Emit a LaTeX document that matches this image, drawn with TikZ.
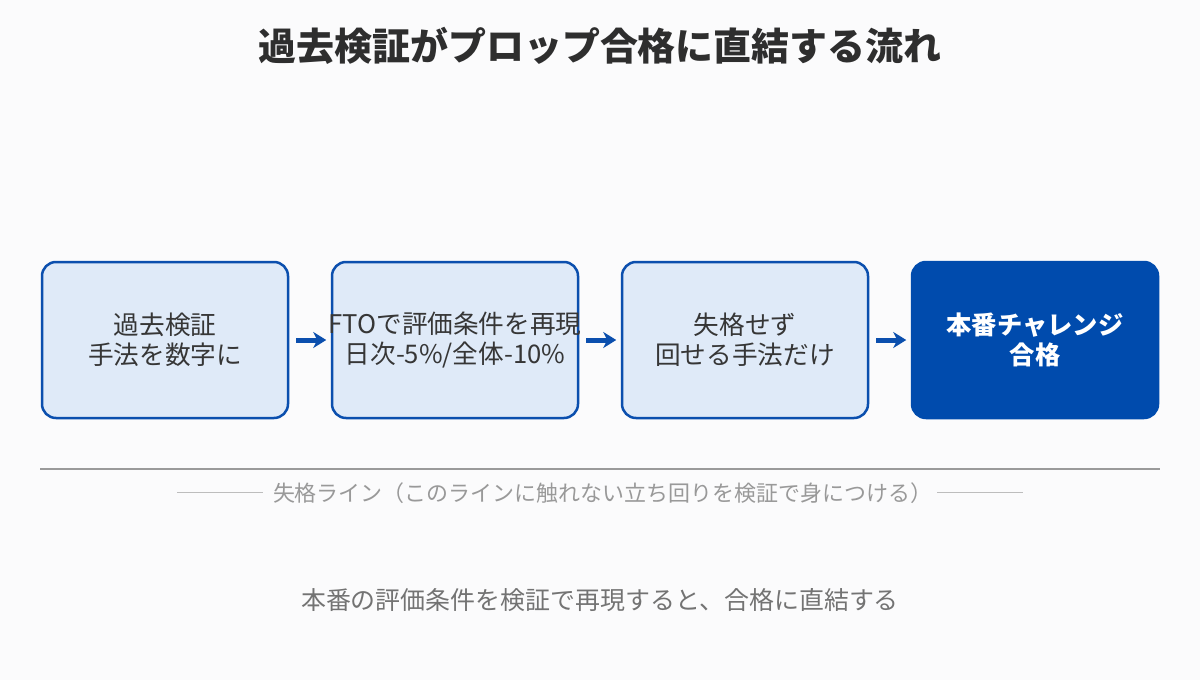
\documentclass[tikz,border=0pt]{standalone}
\usepackage{fontspec}
\usetikzlibrary{arrows.meta}
\newfontfamily\jp{Noto Sans CJK JP}
\definecolor{page-bg}{HTML}{FBFBFC}
\definecolor{box-line}{HTML}{0B4FAE}
\definecolor{box-fill}{HTML}{DFEAF8}
\definecolor{goal-fill}{HTML}{004BAD}
\definecolor{title-ink}{HTML}{2E2E2E}
\definecolor{body-ink}{HTML}{363636}
\definecolor{rule-grey}{HTML}{9A9A9A}
\definecolor{note-grey}{HTML}{999999}
\definecolor{dash-grey}{HTML}{BDBDBD}
\definecolor{foot-grey}{HTML}{737373}
\newcommand{\notedash}{{\color{dash-grey}\rule[0.36em]{1.72cm}{0.6pt}}}

\begin{document}
\begin{tikzpicture}[
      stepbox/.style={draw=box-line, fill=box-fill, line width=0.05cm,
        rounded corners=0.28cm, minimum width=4.92cm, minimum height=3.12cm},
      goalbox/.style={stepbox, draw=goal-fill, fill=goal-fill},
      steptext/.style={align=center, text=body-ink,
        font=\jp\fontsize{14.6}{17}\selectfont},
      flowarrow/.style={draw=box-line, line width=0.1cm,
        -{Stealth[length=0.26cm, width=0.32cm, inset=0.08cm]},
        shorten <=0.14cm, shorten >=0.09cm}]
    \fill[page-bg] (0,0) rectangle (24,-13.6);
    \useasboundingbox (0,0) rectangle (24,-13.6);

    \node[font=\jp\bfseries\fontsize{21.6}{26}\selectfont, text=title-ink]
      (title) at (12,-0.92) {過去検証がプロップ合格に直結する流れ};

    % three steps, then the goal
    \foreach \i/\x/\txt in {1/3.3/{過去検証\\手法を数字に},
        2/9.1/{FTOで評価条件を再現\\日次-5\%/全体-10\%},
        3/14.9/{失格せず\\回せる手法だけ}} {
      \node[stepbox] (s\i) at (\x,-6.8) {};
      \node[steptext] (t\i) at (s\i.center) {\txt};
    }
    \node[goalbox] (s4) at (20.7,-6.8) {};
    \node[steptext, text=white, font=\jp\bfseries\fontsize{14.4}{17}\selectfont]
      (t4) at (s4.center) {本番チャレンジ\\合格};

    \foreach \a/\b in {1/2, 2/3, 3/4}
      \draw[flowarrow] (s\a) -- (s\b);

    % fail line
    \coordinate (lineL) at (0.8,-9.38);
    \coordinate (lineR) at (23.2,-9.38);
    \draw[rule-grey, line width=0.04cm] (lineL) -- (lineR);
    \node[font=\jp\fontsize{12.5}{15}\selectfont, text=note-grey] (note)
      at (12,-9.86) {\notedash\hspace{0.2cm}失格ライン（このラインに触れない立ち回りを検証で身につける）\hspace{0.1cm}\notedash};

    \node[font=\jp\fontsize{14.2}{17}\selectfont, text=foot-grey] (foot)
      at (12,-12.0) {本番の評価条件を検証で再現すると、合格に直結する};
  \end{tikzpicture}
\end{document}
